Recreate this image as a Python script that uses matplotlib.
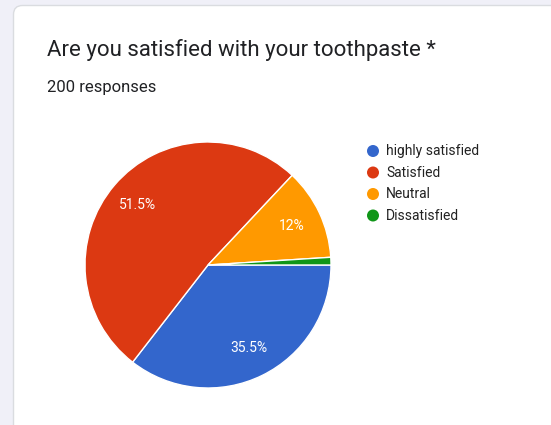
import matplotlib

matplotlib.use("Agg")
import matplotlib.pyplot as plt
import matplotlib.patches as patches

plt.rcParams.update({"font.family": ["Roboto", "DejaVu Sans"]})

TITLE = "Are you satisfied with your toothpaste *"
SUBTITLE = "200 responses"

LABELS = ["highly satisfied", "Satisfied", "Neutral", "Dissatisfied"]
COUNTS = [71, 103, 24, 2]
COLORS = ["#3366CC", "#DC3912", "#FF9900", "#109618"]

W, H = 551, 425


def pct_label(p):
    # tiny slices get no label, like the forms summary view
    if p < 5:
        return ""
    return f"{p:.1f}%".replace(".0%", "%")


fig = plt.figure(figsize=(W / 100, H / 100), dpi=100)
fig.patch.set_facecolor("#F0F0F8")

# full-figure overlay in pixel coordinates for the card, titles and legend
bg = fig.add_axes([0, 0, 1, 1])
bg.set_xlim(0, W)
bg.set_ylim(H, 0)
bg.axis("off")

card = patches.FancyBboxPatch(
    (13.5, 5.5), 560, 440,
    boxstyle="round,pad=0,rounding_size=9",
    linewidth=1.0, edgecolor="#DADCE0", facecolor="white",
)
bg.add_patch(card)

bg.text(47, 50, TITLE, fontsize=16, color="#202124", va="center", ha="left")
bg.text(47, 87, SUBTITLE, fontsize=12, color="#202124", va="center", ha="left")

for i, (lab, col) in enumerate(zip(LABELS, COLORS)):
    y = 151 + i * 21.5
    bg.add_patch(patches.Ellipse((373, y), 12, 12, facecolor=col, edgecolor="none"))
    bg.text(386, y, lab, fontsize=10, color="#222222", va="center", ha="left")

# pie: center (208, 265) px, radius 123 px
cx, cy, r = 208, 265, 123
ax = fig.add_axes([(cx - r) / W, (H - cy - r) / H, 2 * r / W, 2 * r / H])
wedges, _, _ = ax.pie(
    COUNTS,
    colors=COLORS,
    startangle=0,
    counterclock=False,
    autopct=pct_label,
    pctdistance=0.75,
    wedgeprops=dict(edgecolor="white", linewidth=1.0),
    textprops=dict(color="white", fontsize=10),
)
for w in wedges:
    w.set_clip_on(False)
ax.set_xlim(-1, 1)
ax.set_ylim(-1, 1)
ax.set_aspect("equal")
ax.axis("off")

fig.savefig("out.png", dpi=100, facecolor=fig.get_facecolor())
